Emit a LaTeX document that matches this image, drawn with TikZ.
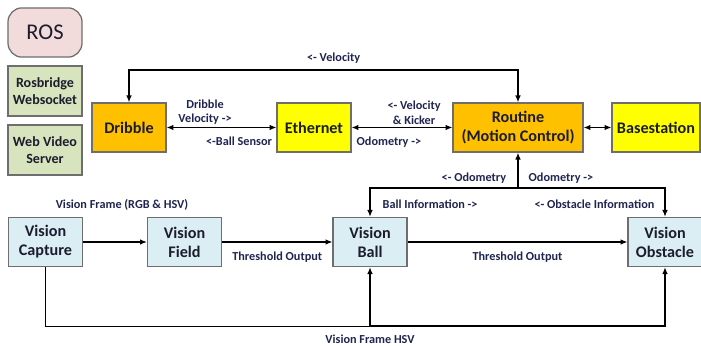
\documentclass[tikz,border=0pt]{standalone}
\usepackage{fontspec}
\setmainfont{Carlito}
\usepackage{tikz}
\usetikzlibrary{positioning, arrows.meta, calc}
\definecolor{ctrlfill}{HTML}{FFC000}
\definecolor{linkfill}{HTML}{FFFF00}
\definecolor{visfill}{HTML}{DBEEF4}
\definecolor{rosfill}{HTML}{F2DCDB}
\definecolor{sidefill}{HTML}{D7E4BD}
\definecolor{boxline}{HTML}{6E6E6E}
\definecolor{ink}{HTML}{1C1C2E}
\definecolor{lblink}{HTML}{1F2550}
\tikzset{
  blk/.style     = {rectangle, draw=boxline, line width=0.9pt,
                    minimum width=1.85cm, minimum height=1.23cm,
                    inner sep=1pt, align=center, text=ink,
                    font=\fontsize{11.5}{13.5}\selectfont\bfseries},
  ctrl/.style    = {blk, fill=ctrlfill},
  link/.style    = {blk, fill=linkfill},
  vis/.style     = {blk, fill=visfill},
  side/.style    = {blk, fill=sidefill, minimum height=1.25cm,
                    font=\fontsize{10}{12}\selectfont\bfseries},
  rosbox/.style  = {blk, fill=rosfill, rounded corners=10pt,
                    font=\fontsize{16}{18}\selectfont},
  lbl/.style     = {inner sep=1pt, align=center, text=lblink,
                    font=\fontsize{8.7}{10.5}\selectfont\bfseries},
  arr/.style     = {-{Latex[length=1.7mm,width=1.4mm]}, line width=0.8pt},
  darr/.style    = {{Latex[length=1.7mm,width=1.4mm]}-{Latex[length=1.7mm,width=1.4mm]},
                    line width=0.8pt},
}

\begin{document}
\begin{tikzpicture}[x=0.025cm, y=-0.025cm]

  \useasboundingbox (0,0) rectangle (701,346);
  \clip (0,0) rectangle (701,346);

  % ROS side column
  \node[rosbox]                   (ros)  at (45,32.5) {ROS};
  \node[side]                     (rbw)  at (45,91)   {Rosbridge\\Websocket};
  \node[side]                     (wvs)  at (45,150)  {Web Video\\Server};

  % control row
  \node[ctrl]                     (drib) at (129,127.5) {Dribble};
  \node[link]                     (eth)  at (314,127.5) {Ethernet};
  \node[ctrl, minimum width=3.25cm] (rout) at (518,127.5) {Routine\\(Motion Control)};
  \node[link, minimum width=2.2cm]  (base) at (656,127.5) {Basestation};

  % vision row
  \node[vis]                      (vcap) at (45.5,242) {Vision\\Capture};
  \node[vis]                      (vfld) at (184.5,242) {Vision\\Field};
  \node[vis]                      (vbal) at (370,242) {Vision\\Ball};
  \node[vis]                      (vobs) at (665,242) {Vision\\Obstacle};

  \coordinate (vtop) at (518,70);
  \coordinate (odo)  at (518,188);
  \coordinate (loop) at (370,326);

  \draw[darr] (drib) -- node[lbl, above=0.5pt, pos=0.35] (lbldv) {Dribble\\Velocity ->}
                        node[lbl, below=5pt, pos=0.66] (lblbs) {<-Ball Sensor} (eth);
  \draw[darr] (eth) -- node[lbl, above=0.5pt, pos=0.62] (lblvk) {<- Velocity\\\& Kicker}
                       node[lbl, below=5pt, pos=0.37] (lblod) {Odometry ->} (rout);
  \draw[darr] (rout) -- (base);
  \draw[darr] (rout.north) -- (vtop) -| node[lbl, above=3pt, pos=0.237] (lblvel) {<- Velocity} (drib.north);

  \draw[arr] (odo) -- (rout.south);
  \draw[arr] (odo) -| node[lbl, above=1.5pt, pos=0.149] (lblol) {<- Odometry}
                      node[lbl, below=7pt, pos=0.297] (lblbi) {Ball Information ->} (vbal.north);
  \draw[arr] (odo) -| node[lbl, above=1.5pt, pos=0.146] (lblor) {Odometry ->}
                      node[lbl, below=7pt, pos=0.26] (lbloi) {<- Obstacle Information} (vobs.north);

  \draw[arr] (vcap) -- (vfld);
  \node[lbl] (lblrgb) at (122,205) {Vision Frame (RGB \& HSV)};
  \draw[arr] (vfld) -- node[lbl, below=6pt] (lblth1) {Threshold Output} (vbal);
  \draw[arr] (vbal) -- node[lbl, below=6pt] (lblth2) {Threshold Output} (vobs);

  \draw (vcap.south) |- (loop) node[lbl, below=5pt] (lblhsv) {Vision Frame HSV};
  \draw[arr] (loop) -- (vbal.south);
  \draw[arr] (loop) -| (vobs.south);

\end{tikzpicture}
\end{document}
